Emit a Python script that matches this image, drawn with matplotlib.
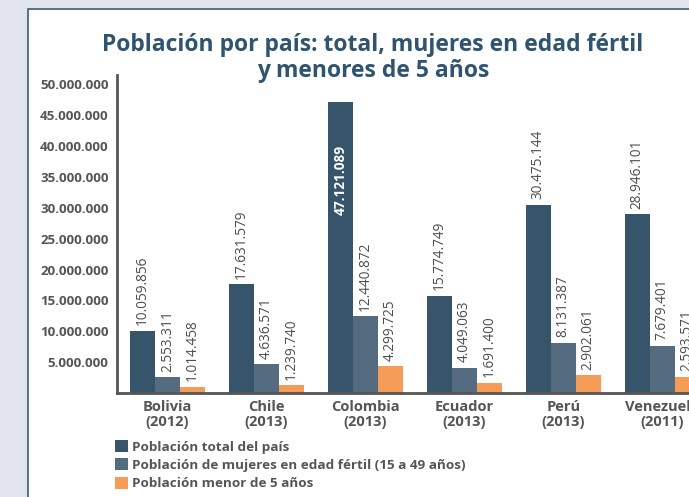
import matplotlib
matplotlib.use('Agg')
import matplotlib.pyplot as plt
from matplotlib.patches import Rectangle, Patch
import numpy as np

categories = ['Bolivia\n(2012)', 'Chile\n(2013)', 'Colombia\n(2013)',
              'Ecuador\n(2013)', 'Perú\n(2013)', 'Venezuela\n(2011)']
total = [10059856, 17631579, 47121089, 15774749, 30475144, 28946101]
mujeres = [2553311, 4636571, 12440872, 4049063, 8131387, 7679401]
menores = [1014458, 1239740, 4299725, 1691400, 2902061, 2593571]
series_names = ['Población total del país',
                'Población de mujeres en edad fértil (15 a 49 años)',
                'Población menor de 5 años']
yticks = [5000000 * i for i in range(1, 11)]

colors = ['#36556a', '#556b7f', '#f69c59']
grey = '#555555'
title_col = '#2e5470'


def fmt(v):
    return '{:,}'.format(v).replace(',', '.')


def main():
    plt.rcParams['font.family'] = ['Open Sans', 'DejaVu Sans']
    fig = plt.figure(figsize=(6.89, 4.97), dpi=100)
    fig.patch.set_facecolor('#e1e4ee')
    fig.patches.append(Rectangle((28 / 689, -0.1), 1.2, (497 - 9) / 497 + 0.1,
                                 transform=fig.transFigure, facecolor='white',
                                 edgecolor='#3d5a74', linewidth=1.2, zorder=-5))

    ax = fig.add_axes([117 / 689, (497 - 393) / 497, 1 - 117 / 689, (393 - 75) / 497])
    ax.set_facecolor('none')
    ax.set_zorder(2)

    x = np.arange(len(categories))
    w = 0.2525
    data = [total, mujeres, menores]
    for i, vals in enumerate(data):
        xs = x + (i - 1) * w
        ax.bar(xs, vals, w, color=colors[i], zorder=2)
        for j, (xx, v) in enumerate(zip(xs, vals)):
            if i == 0 and j == 2:
                ax.annotate(fmt(v), (xx, v), xytext=(0, -31), textcoords='offset points',
                            rotation=90, ha='center', va='top', color='white',
                            fontsize=9.8, fontweight='bold', annotation_clip=False)
            else:
                ax.annotate(fmt(v), (xx, v), xytext=(0, 4), textcoords='offset points',
                            rotation=90, ha='center', va='bottom', color='#4d4d4d',
                            fontsize=9.8, annotation_clip=False)

    ax.set_xlim(-0.51, 5.27)
    ax.set_ylim(0, 51500000)
    ax.set_yticks(yticks)
    ax.set_yticklabels([fmt(v) for v in yticks], fontsize=9.6)
    ax.set_xticks(x)
    ax.set_xticklabels(categories, fontsize=10.5, linespacing=1.1)
    ax.tick_params(length=0, colors=grey)
    ax.tick_params(axis='y', pad=6)
    ax.tick_params(axis='x', pad=5)
    for lab in ax.get_xticklabels() + ax.get_yticklabels():
        lab.set_fontweight('bold')
    for s in ['top', 'right']:
        ax.spines[s].set_visible(False)
    for s in ['left', 'bottom']:
        ax.spines[s].set_color(grey)
        ax.spines[s].set_linewidth(2)

    fig.text(373 / 689, 1 - 58 / 497, 'Población por país: total, mujeres en edad fértil\ny menores de 5 años',
             ha='center', va='center', fontsize=16.5, fontweight='bold', color=title_col,
             linespacing=1.15)

    handles = [Patch(facecolor=c) for c in colors]
    fig.legend(handles, series_names, loc='upper left',
               bbox_to_anchor=(115 / 689, 1 - 440 / 497), frameon=False,
               handlelength=1.0, handleheight=1.0, handletextpad=0.25,
               labelspacing=0.35, borderpad=0, borderaxespad=0,
               prop={'weight': 'bold', 'size': 9.7}, labelcolor=grey)

    fig.savefig('out.png', dpi=100, facecolor=fig.get_facecolor())


if __name__ == '__main__':
    main()
